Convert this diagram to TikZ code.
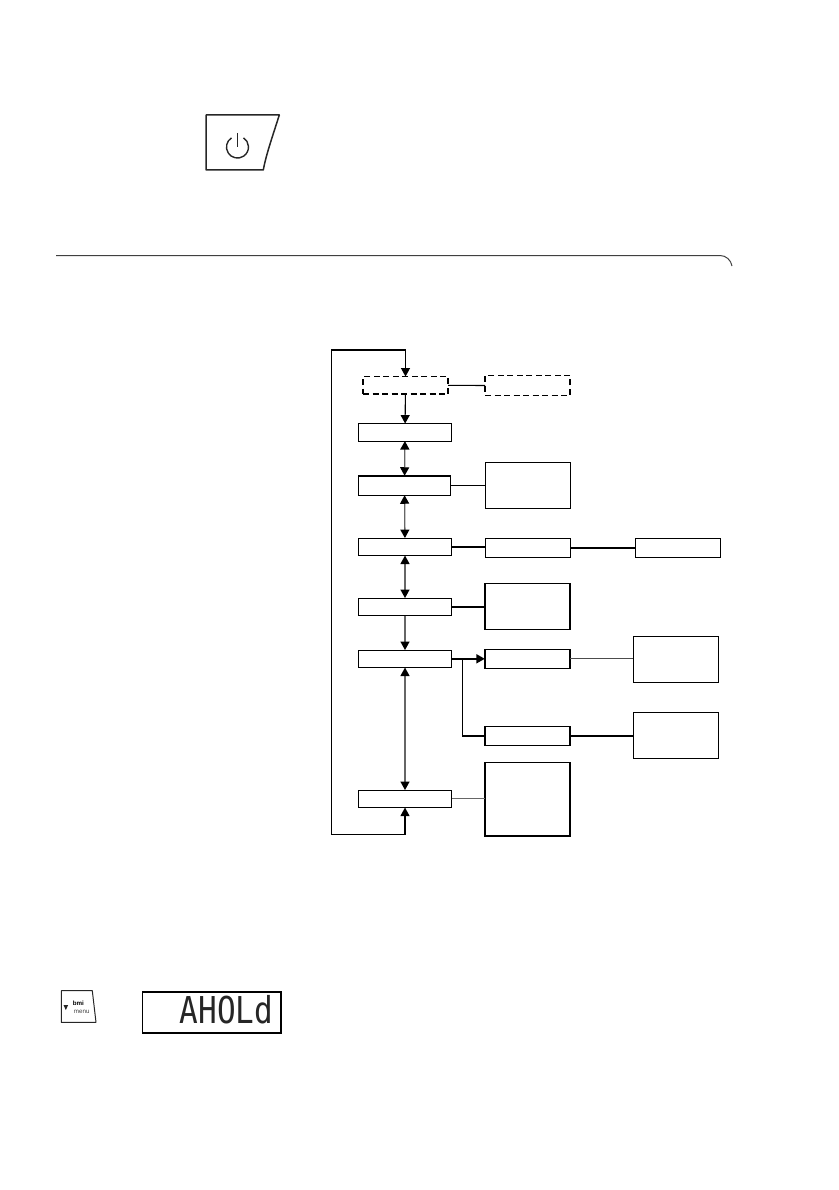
\documentclass[tikz,border=0pt]{standalone}
\usepackage{fontspec}
\usetikzlibrary{arrows.meta, positioning}
\setsansfont{Liberation Sans}
\newfontfamily\lcdfont{DejaVu Sans Mono}

\begin{document}
\begin{tikzpicture}[x=1pt, y=-1pt,
    flowtip/.tip={Triangle[length=8.5pt, width=9pt, black]},
    modebox/.style={draw, inner sep=0pt, outer sep=0pt, line width=1.1pt,
                    minimum width=93pt, minimum height=17.5pt},
    sidebox/.style={draw, inner sep=0pt, outer sep=0pt, line width=#1,
                    minimum width=85pt},
    sidebox/.default=1.1pt,
    dashbox/.style={draw, dashed, dash pattern=on 6pt off 3.5pt, inner sep=0pt, outer sep=0pt,
                    line width=1.4pt, minimum width=85pt},
    oneway/.style={-{flowtip}, line width=1.1pt},
    twoway/.style={{flowtip}-{flowtip}, line width=1.3pt, draw=black!60},
    link/.style={line width=#1},
    link/.default=1.1pt,
]
    \useasboundingbox (0,0) rectangle (838,1190);

    % power key
    \draw[line width=1.5pt, line join=round, black!85] (206,115) -- (279.3,115)
        .. controls (272,138) and (266,155) .. (263.3,170) -- (206,170) -- cycle;
    \draw[line width=1.4pt, black!85] (231.5,137.8) arc[start angle=237, end angle=-57, radius=11];
    \draw[line width=1.4pt, black!85] (237.7,133) -- (237.7,147.5);

    % section rule
    \draw[line width=1pt, black!75] (56,255.5) -- (720,255.5)
        .. controls (726,255.5) and (731,260) .. (732,266);

    % mode column
    \node[dashbox, minimum height=17.5pt] (setup) at (405.5,385.3) {};
    \node[modebox] (modea) at (405,432.3) {};
    \node[modebox, minimum width=92pt, minimum height=19.5pt] (modeb) at (404.5,485.5) {};
    \node[modebox] (modec) at (405,546.8) {};
    \node[modebox] (moded) at (405,606.8) {};
    \node[modebox] (modee) at (405,658.8) {};
    \node[modebox] (modef) at (405,798.8) {};

    % side boxes
    \node[dashbox, minimum height=19.5pt] (setupside) at (527.5,385.5) {};
    \node[sidebox, minimum height=46pt] (sideb) at (527.8,485.3) {};
    \node[sidebox, minimum height=19pt] (sidec) at (527.8,547.8) {};
    \node[sidebox, minimum width=84.5pt, minimum height=19pt] (sidecfar) at (678,547.8) {};
    \node[sidebox=1.6pt, minimum height=46pt] (sided) at (527.3,606.3) {};
    \node[sidebox=1.6pt, minimum height=19pt] (sidee) at (527.3,658.8) {};
    \node[sidebox, minimum height=46pt] (sideefar) at (675.8,659.3) {};
    \node[sidebox=1.6pt, minimum height=19pt] (sideg) at (527.3,736) {};
    \node[sidebox, minimum height=46pt] (sidegfar) at (675.8,735.3) {};
    \node[sidebox=1.8pt, minimum height=73.5pt] (sidef) at (527.3,799.3) {};

    \coordinate (loopnw) at (331.5,350);
    \coordinate (loopsw) at (331.5,834.7);
    \coordinate (branch) at (462.7,658.8);

    % heavier top edge
    \draw[line width=1.8pt] (modeb.north west) -- (modeb.north east);

    % arrows down the column
    \draw[{flowtip}-{flowtip}, line width=1.1pt] (modef.south) |- (loopsw) -- (loopnw) -| (setup.north);
    \draw[oneway] (setup) -- (modea);
    \draw[twoway] (modea) -- (modeb);
    \draw[twoway] (modeb) -- (modec);
    \draw[twoway] (modec) -- (moded);
    \draw[-{flowtip}, line width=1.3pt, draw=black!60] (moded) -- (modee);
    \draw[twoway] (modee) -- (modef);

    % links to the side
    \draw[link] (setup.east) -- (setupside.west);
    \draw[link] (modeb.east) -- (modeb.east -| sideb.west);
    \draw[link=1.8pt] (modec.east) -- (modec.east -| sidec.west);
    \draw[link=1.8pt] (sidec.east) -- (sidecfar.west);
    \draw[link=1.8pt] (moded.east) -- (moded.east -| sided.west);
    \draw[-{flowtip}, line width=1.8pt] (modee.east) -- (sidee.west);
    \draw[link=1.2pt] (branch) |- (sideg.west);
    \draw[link=1.2pt, black!70] (sidee.east) -- (sidee.east -| sideefar.west);
    \draw[link=1.2pt] (sideg.east) -- (sideg.east -| sidegfar.west);
    \draw[link=1.2pt, black!60] (modef.east) -- (modef.east -| sidef.west);

    % menu key
    \draw[line width=1pt, line join=round, black!85] (61.3,990.7) -- (92.3,990.7) -- (96,1022.3) -- (61.3,1022.3) -- cycle;
    \fill[black!85] (63.5,1005) -- (68.2,1005) -- (65.8,1010) -- cycle;
    \node[font=\sffamily\bfseries, scale=0.62, inner sep=0pt] (bmilabel) at (78.3,1003.7) {bmi};
    \node[font=\sffamily, scale=0.62, inner sep=0pt, black!75] (menulabel) at (81.7,1011.7) {menu};

    % display
    \node[draw, line width=1.6pt, inner sep=0pt, minimum width=138.5pt, minimum height=41pt] (display) at (211.8,1012.2) {};
    \node[font=\lcdfont\fontsize{37}{37}\selectfont, xscale=0.84, inner sep=0pt, black!85] (readout) at (226.5,1009.5) {AHOLd};
\end{tikzpicture}
\end{document}
